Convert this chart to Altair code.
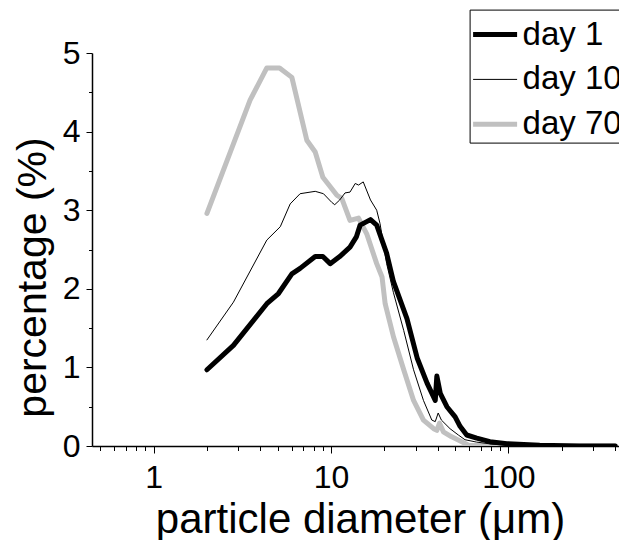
import altair as alt
import pandas as pd

# ---- data ----
day1_d = [2.0, 2.82, 4.35, 5.06, 6.02, 6.7, 8.15, 9.0, 9.9, 11.2, 12.8, 13.9, 14.6, 16.7, 18.1,
          20.6, 22.5, 26.8, 30.6, 34.8, 38.7, 39.5, 41.3, 45.0, 50.1, 53.4, 58.2, 66.3, 78.7,
          98.0, 150.0, 250.0, 400.0]
day1_v = [0.97, 1.28, 1.81, 1.94, 2.19, 2.26, 2.41, 2.41, 2.32, 2.41, 2.53, 2.66, 2.81, 2.88, 2.81,
          2.45, 2.09, 1.62, 1.12, 0.80, 0.58, 0.89, 0.67, 0.50, 0.37, 0.25, 0.14, 0.10, 0.055,
          0.03, 0.01, 0.0, 0.0]

day10_d = [2.0, 2.82, 4.35, 5.18, 5.89, 6.7, 8.15, 9.07, 10.1, 10.5, 11.2, 12.0, 12.8, 13.7, 14.3,
           15.2, 16.7, 18.1, 18.9, 20.6, 22.5, 25.7, 29.2, 33.2, 37.0, 38.7, 40.2, 41.9, 46.9,
           52.2, 56.9, 66.0, 80.0, 100.0, 400.0]
day10_v = [1.35, 1.83, 2.62, 2.79, 3.08, 3.21, 3.24, 3.21, 3.10, 3.07, 3.13, 3.22, 3.23, 3.34, 3.32,
           3.36, 3.13, 3.00, 2.83, 2.32, 1.95, 1.47, 0.97, 0.58, 0.33, 0.31, 0.42, 0.33, 0.22,
           0.14, 0.08, 0.05, 0.025, 0.01, 0.0]

day70_d = [2.0, 3.5, 4.35, 5.13, 6.02, 7.31, 8.15, 9.0, 10.8, 11.5, 12.8, 14.3, 15.9, 18.1, 19.4,
           20.2, 22.5, 25.7, 29.2, 33.2, 37.9, 39.5, 40.9, 43.0, 47.6, 54.6, 59.6, 100.0, 400.0]
day70_v = [2.96, 4.40, 4.81, 4.81, 4.69, 3.89, 3.74, 3.42, 3.19, 3.15, 2.87, 2.90, 2.70, 2.32, 2.15,
           1.81, 1.39, 0.97, 0.58, 0.33, 0.22, 0.20, 0.29, 0.18, 0.12, 0.055, 0.01, 0.0, 0.0]

series_names = ["day 1", "day 10", "day 70"]
series_colors = ["#000000", "#000000", "#c0c0c0"]
series_widths = [5, 1, 5]

x_ticks = [0.5, 0.6, 0.7, 0.8, 0.9, 1, 2, 3, 4, 5, 6, 7, 8, 9, 10,
           20, 30, 40, 50, 60, 70, 80, 90, 100, 200, 300, 400]
y_ticks = [0, 0.5, 1, 1.5, 2, 2.5, 3, 3.5, 4, 4.5, 5]

rows = []
# draw order: grey first, then thick black, then thin on top
for name, ds, vs in [("day 70", day70_d, day70_v), ("day 1", day1_d, day1_v), ("day 10", day10_d, day10_v)]:
    for i, (d, v) in enumerate(zip(ds, vs)):
        rows.append({"series": name, "d": d, "v": v, "i": i})
df = pd.DataFrame(rows)

FONT = "Liberation Sans"

leg = alt.Legend(
    title=" ", titleFontSize=9, titlePadding=0,
    orient="none", legendX=377.6, legendY=-43.4,
    symbolType="stroke", symbolSize=1936,
    clipHeight=30,
    labelFont=FONT, labelFontSize=33, labelColor="black", labelOffset=3,
    rowPadding=11.8, padding=1,
    strokeColor="black", fillColor="white",
)

chart = alt.Chart(df).mark_line(strokeCap="round", strokeJoin="round", clip=True).encode(
    x=alt.X("d:Q",
            scale=alt.Scale(type="log", domain=[0.45, 420], nice=False),
            axis=alt.Axis(
                values=x_ticks,
                labelExpr="datum.value == 1 || datum.value == 10 || datum.value == 100 ? format(datum.value, 'd') : ''",
                tickSize={"condition": {"test": "datum.value == 1 || datum.value == 10 || datum.value == 100", "value": 7}, "value": 4.5},
                labelOverlap=False, labelFlush=False, labelBound=False,
                labelFont=FONT, labelFontSize=32, labelColor="black", labelPadding=9,
                title="particle diameter (μm)", titleFont=FONT, titleFontSize=42,
                titleFontWeight="normal", titleColor="black",
                titleX=268, titleY=86, titleBaseline="alphabetic", titleAnchor="middle",
                domainColor="black", domainWidth=1.5, tickColor="black", tickWidth=1,
                grid=False,
            )),
    y=alt.Y("v:Q",
            scale=alt.Scale(domain=[0, 5], nice=False, zero=True),
            axis=alt.Axis(
                values=y_ticks,
                labelExpr="datum.value % 1 == 0 ? format(datum.value, 'd') : ''",
                tickSize={"condition": {"test": "datum.value % 1 == 0", "value": 6}, "value": 3.5},
                labelOverlap=False, labelFlush=False, labelBound=False,
                labelFont=FONT, labelFontSize=32, labelColor="black", labelPadding=6,
                title="percentage (%)", titleFont=FONT, titleFontSize=41,
                titleFontWeight="normal", titleColor="black",
                titleX=-47, titleY=224, titleBaseline="alphabetic", titleAngle=270,
                titleAnchor="middle",
                domainColor="black", domainWidth=1.5, tickColor="black", tickWidth=1,
                grid=False,
            )),
    color=alt.Color("series:N", scale=alt.Scale(domain=series_names, range=series_colors), legend=leg),
    strokeWidth=alt.StrokeWidth("series:N",
                                scale=alt.Scale(type="ordinal", domain=series_names, range=series_widths),
                                legend=leg),
    order=alt.Order("i:Q"),
    detail="series:N",
).properties(
    width=527, height=393,
    autosize=alt.AutoSizeParams(type="none"),
    padding={"left": 92, "top": 53, "right": 0, "bottom": 94},
    background="white",
).configure_view(stroke=None)

chart.save("out.html", embed_options={"renderer": "svg", "actions": False})
